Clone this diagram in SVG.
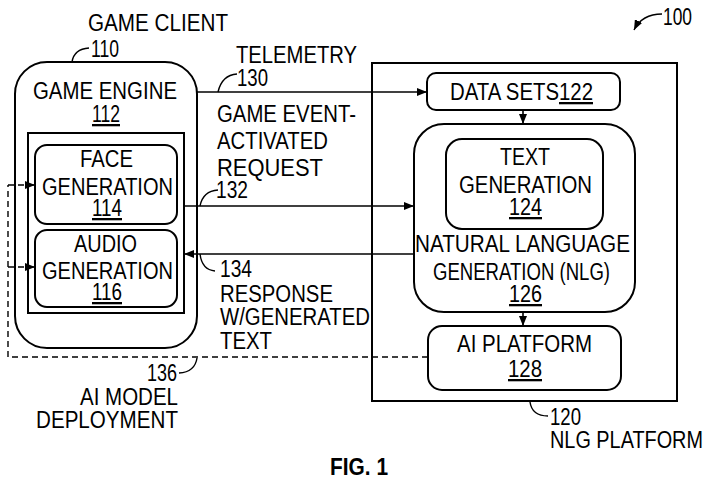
<svg xmlns="http://www.w3.org/2000/svg" width="714" height="484" viewBox="0 0 714 484">
<style>
text{font-family:"Liberation Sans",Arial,sans-serif;font-size:23px;fill:#000}
.u{text-decoration:underline}
.box{fill:none;stroke:#000;stroke-width:2}
.ln{fill:none;stroke:#000;stroke-width:1.6}
.ld{fill:none;stroke:#000;stroke-width:1.4}
.ds{fill:none;stroke:#000;stroke-width:1.4;stroke-dasharray:6 4}
.fig{font-weight:bold;font-size:23px}
</style>
<defs>
<marker id="ah" viewBox="0 0 10 8" refX="10" refY="4" markerWidth="10" markerHeight="8" markerUnits="userSpaceOnUse" orient="auto">
<path d="M0,0 L10,4 L0,8 Z" fill="#000"/>
</marker>
</defs>
<rect width="714" height="484" fill="#fff"/>

<g id="ref100">
<text x="663" y="25" textLength="29" lengthAdjust="spacingAndGlyphs">100</text>
<path class="ld" d="M662,14 Q642,14 634,30" marker-end="url(#ah)"/>
</g>

<g id="game-client">
<text x="88" y="31" textLength="140" lengthAdjust="spacingAndGlyphs">GAME CLIENT</text>
<text x="91" y="57" textLength="28" lengthAdjust="spacingAndGlyphs">110</text>
<path class="ld" d="M72,62 Q74,49 89,48"/>
<rect class="box" x="15" y="62" width="182" height="286" rx="32"/>
</g>

<g id="game-engine">
<text x="33" y="99" textLength="144" lengthAdjust="spacingAndGlyphs">GAME ENGINE</text>
<text class="u" x="92" y="122" textLength="28" lengthAdjust="spacingAndGlyphs">112</text>
<rect class="box" x="28" y="133" width="156" height="180"/>
</g>

<g id="face-generation">
<rect class="box" x="35" y="145" width="142" height="79" rx="12"/>
<text x="80" y="167" textLength="53" lengthAdjust="spacingAndGlyphs">FACE</text>
<text x="42" y="195" textLength="131" lengthAdjust="spacingAndGlyphs">GENERATION</text>
<text class="u" x="92" y="216" textLength="30" lengthAdjust="spacingAndGlyphs">114</text>
</g>

<g id="audio-generation">
<rect class="box" x="35" y="230" width="142" height="77" rx="12"/>
<text x="74" y="252" textLength="63" lengthAdjust="spacingAndGlyphs">AUDIO</text>
<text x="42" y="279" textLength="131" lengthAdjust="spacingAndGlyphs">GENERATION</text>
<text class="u" x="92" y="300" textLength="30" lengthAdjust="spacingAndGlyphs">116</text>
</g>

<g id="nlg-platform">
<rect class="box" x="372" y="63" width="305" height="338"/>
<path class="ld" d="M530,402 Q532,416 548,416"/>
<text x="550" y="425" textLength="31" lengthAdjust="spacingAndGlyphs">120</text>
<text x="550" y="448" textLength="153" lengthAdjust="spacingAndGlyphs">NLG PLATFORM</text>
</g>

<g id="data-sets">
<rect class="box" x="427" y="73" width="193" height="37" rx="9"/>
<text x="450" y="100" textLength="143" lengthAdjust="spacingAndGlyphs">DATA SETS<tspan class="u">122</tspan></text>
</g>

<g id="nlg">
<rect class="box" x="414" y="124" width="221" height="188" rx="30"/>
<text x="415" y="252" textLength="215" lengthAdjust="spacingAndGlyphs">NATURAL LANGUAGE</text>
<text x="433" y="280" textLength="177" lengthAdjust="spacingAndGlyphs">GENERATION (NLG)</text>
<text class="u" x="509" y="302" textLength="33" lengthAdjust="spacingAndGlyphs">126</text>
</g>

<g id="text-generation">
<rect class="box" x="446" y="139" width="157" height="90" rx="16"/>
<text x="500" y="165" textLength="50" lengthAdjust="spacingAndGlyphs">TEXT</text>
<text x="459" y="193" textLength="133" lengthAdjust="spacingAndGlyphs">GENERATION</text>
<text class="u" x="509" y="215" textLength="33" lengthAdjust="spacingAndGlyphs">124</text>
</g>

<g id="ai-platform">
<rect class="box" x="428" y="326" width="193" height="64" rx="14"/>
<text x="457" y="352" textLength="135" lengthAdjust="spacingAndGlyphs">AI PLATFORM</text>
<text class="u" x="508" y="377" textLength="34" lengthAdjust="spacingAndGlyphs">128</text>
</g>

<g id="connectors">
<line class="ln" x1="197" y1="92" x2="427" y2="92" marker-end="url(#ah)"/>
<line class="ln" x1="184" y1="206" x2="414" y2="206" marker-end="url(#ah)"/>
<line class="ln" x1="414" y1="254" x2="184" y2="254" marker-end="url(#ah)"/>
<line class="ln" x1="523" y1="110" x2="523" y2="124" marker-end="url(#ah)"/>
<line class="ln" x1="523" y1="312" x2="523" y2="326" marker-end="url(#ah)"/>
<path class="ds" d="M428,357 H8 V185"/>
<line class="ds" x1="8" y1="185" x2="35" y2="185" marker-end="url(#ah)"/>
<line class="ds" x1="8" y1="267" x2="35" y2="267" marker-end="url(#ah)"/>

<path class="ld" d="M218,92 Q222,75 237,74"/>
<path class="ld" d="M200,206 Q203,191 218,190"/>
<path class="ld" d="M200,254 Q202,270 215,271"/>
<path class="ld" d="M197,358 Q195,372 179,373"/>

<text x="236" y="63" textLength="121" lengthAdjust="spacingAndGlyphs">TELEMETRY</text>
<text x="237" y="86" textLength="31" lengthAdjust="spacingAndGlyphs">130</text>
<text x="217" y="122" textLength="139" lengthAdjust="spacingAndGlyphs">GAME EVENT-</text>
<text x="217" y="149" textLength="111" lengthAdjust="spacingAndGlyphs">ACTIVATED</text>
<text x="217" y="176" textLength="106" lengthAdjust="spacingAndGlyphs">REQUEST</text>
<text x="216" y="198" textLength="32" lengthAdjust="spacingAndGlyphs">132</text>
<text x="220" y="277" textLength="32" lengthAdjust="spacingAndGlyphs">134</text>
<text x="220" y="302" textLength="113" lengthAdjust="spacingAndGlyphs">RESPONSE</text>
<text x="220" y="325" textLength="150" lengthAdjust="spacingAndGlyphs">W/GENERATED</text>
<text x="220" y="349" textLength="52" lengthAdjust="spacingAndGlyphs">TEXT</text>
<text x="147" y="381" textLength="30" lengthAdjust="spacingAndGlyphs">136</text>
<text x="80" y="405" textLength="98" lengthAdjust="spacingAndGlyphs">AI MODEL</text>
<text x="36" y="428" textLength="142" lengthAdjust="spacingAndGlyphs">DEPLOYMENT</text>
</g>

<text class="fig" x="330" y="475" textLength="58" lengthAdjust="spacingAndGlyphs">FIG. 1</text>
</svg>
